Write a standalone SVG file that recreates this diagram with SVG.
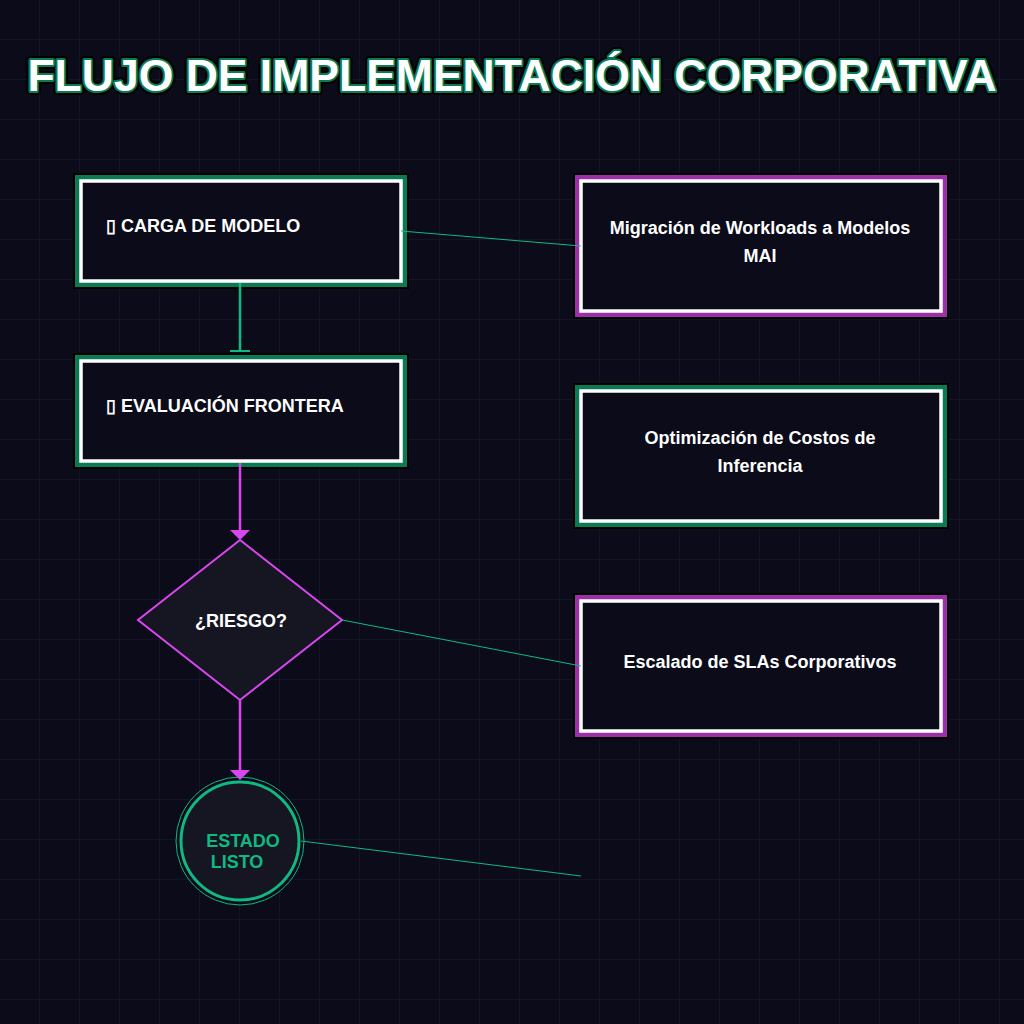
<svg xmlns="http://www.w3.org/2000/svg" width="1024" height="1024" viewBox="0 0 1024 1024">
<defs>
<pattern id="grid" width="40" height="40" patternUnits="userSpaceOnUse"><path d="M40 0V40M0 40H40" fill="none" stroke="#1b1b2e" stroke-width="1"/></pattern>
<style>
.t{font-family:"Liberation Sans",Arial,sans-serif;font-weight:bold;fill:#fff}
.gb{fill:#0b0b19;stroke:#000;stroke-width:2}
.gbandG{fill:none;stroke:#0a7a55;stroke-width:6}
.gbandP{fill:none;stroke:#9b30a8;stroke-width:6}
.in{fill:#0b0b19;stroke:#fff;stroke-width:3.5}
.thin{stroke:#10b981;stroke-width:1;fill:none}
</style>
</defs>
<rect width="1024" height="1024" fill="#0b0b19"/>
<rect width="1024" height="1024" fill="url(#grid)"/>
<text x="512" y="91" text-anchor="middle" class="t" font-size="44.5" stroke="#000" stroke-width="8" stroke-linejoin="round" fill="#000">FLUJO DE IMPLEMENTACIÓN CORPORATIVA</text>
<text x="512" y="91" text-anchor="middle" class="t" font-size="44.5" stroke="#0a7a55" stroke-width="4" stroke-linejoin="round">FLUJO DE IMPLEMENTACIÓN CORPORATIVA</text>
<text x="512" y="91" text-anchor="middle" class="t" font-size="44.5">FLUJO DE IMPLEMENTACIÓN CORPORATIVA</text>
<g id="n1">
<rect x="74" y="174" width="334" height="114" class="gb"/>
<rect x="78" y="178" width="326" height="106" class="gbandG"/>
<rect x="81" y="181" width="320" height="100" class="in"/>
<text x="106" y="232" class="t" font-size="18">▯ CARGA DE MODELO</text>
</g>
<g id="n2">
<rect x="74" y="354" width="334" height="114" class="gb"/>
<rect x="78" y="358" width="326" height="106" class="gbandG"/>
<rect x="81" y="361" width="320" height="100" class="in"/>
<text x="106" y="412" class="t" font-size="18">▯ EVALUACIÓN FRONTERA</text>
</g>
<g id="n3">
<polygon points="240,540 342,620 240,700 138,620" fill="#161622" stroke="#d946ef" stroke-width="2"/>
<text x="241" y="627" text-anchor="middle" class="t" font-size="18">¿RIESGO?</text>
</g>
<g id="n4">
<circle cx="240" cy="841" r="64" fill="none" stroke="#10b981" stroke-width="1"/>
<circle cx="240" cy="841" r="59" fill="#161622" stroke="#10b981" stroke-width="3"/>
<text x="243" y="847" text-anchor="middle" class="t" font-size="18" style="fill:#10b981">ESTADO</text>
<text x="237" y="868" text-anchor="middle" class="t" font-size="18" style="fill:#10b981">LISTO</text>
</g>
<g id="r1">
<rect x="574" y="174" width="374" height="144" class="gb"/>
<rect x="578" y="178" width="366" height="136" class="gbandP"/>
<rect x="581" y="181" width="360" height="130" class="in"/>
<text x="760" y="234" text-anchor="middle" class="t" font-size="18">Migración de Workloads a Modelos</text>
<text x="760" y="262" text-anchor="middle" class="t" font-size="18">MAI</text>
</g>
<g id="r2">
<rect x="574" y="384" width="374" height="144" class="gb"/>
<rect x="578" y="388" width="366" height="136" class="gbandG"/>
<rect x="581" y="391" width="360" height="130" class="in"/>
<text x="760" y="444" text-anchor="middle" class="t" font-size="18">Optimización de Costos de</text>
<text x="760" y="472" text-anchor="middle" class="t" font-size="18">Inferencia</text>
</g>
<g id="r3">
<rect x="574" y="594" width="374" height="144" class="gb"/>
<rect x="578" y="598" width="366" height="136" class="gbandP"/>
<rect x="581" y="601" width="360" height="130" class="in"/>
<text x="760" y="668" text-anchor="middle" class="t" font-size="18">Escalado de SLAs Corporativos</text>
</g>
<g id="connectors">
<line x1="240" y1="283" x2="240" y2="351" stroke="#10b981" stroke-width="2.5"/>
<line x1="230" y1="351" x2="250" y2="351" stroke="#10b981" stroke-width="2"/>
<line x1="401" y1="231" x2="581" y2="246" class="thin"/>
<line x1="240" y1="463" x2="240" y2="532" stroke="#d946ef" stroke-width="2.5"/>
<path d="M230 530L250 530L240 540Z" fill="#d946ef"/>
<line x1="342" y1="620" x2="581" y2="666" class="thin"/>
<line x1="240" y1="700" x2="240" y2="772" stroke="#d946ef" stroke-width="2.5"/>
<path d="M230 770L250 770L240 780Z" fill="#d946ef"/>
<line x1="301" y1="841" x2="581" y2="876" class="thin"/>
</g>
</svg>
